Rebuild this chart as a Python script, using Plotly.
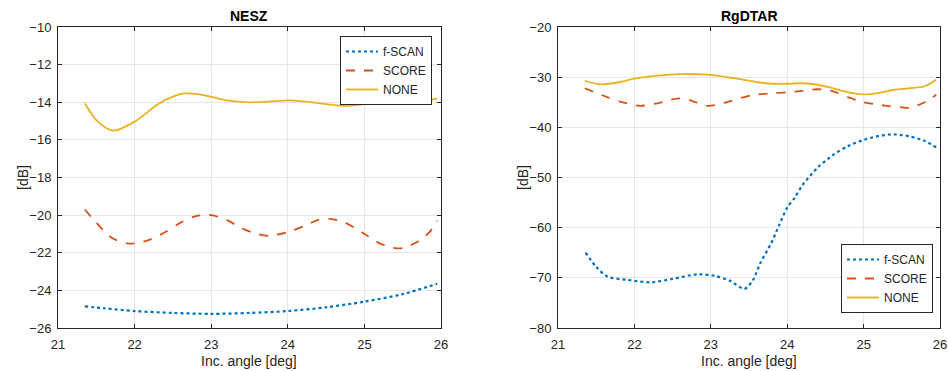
import plotly.graph_objects as go

# ---- NESZ data ----
nesz_none_x = [21.35, 21.52, 21.72, 22.0, 22.31, 22.5, 22.65, 22.8, 22.96, 23.2, 23.5, 23.8, 24.0, 24.2, 24.5, 24.75, 25.0, 25.2, 25.4, 25.6, 25.8, 25.95]
nesz_none_y = [-14.06, -15.03, -15.51, -15.03, -14.09, -13.7, -13.53, -13.55, -13.67, -13.9, -14.0, -13.95, -13.9, -13.95, -14.1, -14.2, -14.1, -13.95, -13.8, -13.8, -13.9, -13.8]
nesz_score_x = [21.35, 21.5, 21.7, 21.9, 22.0, 22.2, 22.4, 22.6, 22.8, 23.0, 23.2, 23.4, 23.6, 23.75, 24.0, 24.2, 24.4, 24.55, 24.75, 25.0, 25.2, 25.4, 25.5, 25.7, 25.85, 25.95]
nesz_score_y = [-19.7, -20.4, -21.2, -21.5, -21.5, -21.3, -20.9, -20.4, -20.05, -20.0, -20.25, -20.7, -21.0, -21.1, -20.9, -20.6, -20.25, -20.2, -20.4, -21.0, -21.5, -21.75, -21.75, -21.4, -20.9, -20.3]
nesz_fscan_x = [21.35, 21.6, 22.0, 22.5, 23.0, 23.5, 24.0, 24.5, 25.0, 25.5, 25.95]
nesz_fscan_y = [-24.85, -24.95, -25.1, -25.2, -25.25, -25.2, -25.1, -24.9, -24.6, -24.2, -23.65]

# ---- RgDTAR data ----
rg_none_x = [21.35, 21.55, 21.8, 22.0, 22.3, 22.61, 22.96, 23.3, 23.62, 23.8, 24.0, 24.2, 24.4, 24.6, 24.8, 25.0, 25.2, 25.4, 25.6, 25.8, 25.95]
rg_none_y = [-30.7, -31.4, -31.0, -30.3, -29.7, -29.37, -29.5, -30.2, -31.0, -31.3, -31.3, -31.2, -31.5, -32.2, -33.0, -33.4, -33.1, -32.5, -32.2, -31.8, -30.5]
rg_score_x = [21.35, 21.65, 21.85, 22.07, 22.3, 22.59, 22.75, 22.96, 23.2, 23.53, 23.8, 24.0, 24.2, 24.4, 24.6, 24.8, 25.0, 25.3, 25.5, 25.6, 25.8, 25.95]
rg_score_y = [-32.2, -34.0, -35.0, -35.7, -35.2, -34.2, -34.7, -35.7, -35.0, -33.6, -33.2, -33.0, -32.7, -32.4, -32.8, -34.0, -35.0, -35.7, -36.0, -36.1, -35.0, -33.5]
rg_fscan_x = [21.36, 21.5, 21.65, 21.9, 22.22, 22.5, 22.83, 23.05, 23.25, 23.44, 23.55, 23.65, 23.79, 23.9, 24.0, 24.1, 24.2, 24.4, 24.6, 24.8, 25.0, 25.2, 25.4, 25.6, 25.8, 25.95]
rg_fscan_y = [-64.98, -67.8, -69.77, -70.4, -70.9, -70.2, -69.3, -69.6, -70.6, -72.2, -70.5, -67.0, -63.1, -59.3, -56.0, -54.0, -51.5, -48.0, -45.5, -43.7, -42.5, -41.7, -41.4, -41.8, -42.7, -44.0]

labels = ["f-SCAN", "SCORE", "NONE"]
colors = ["#0072BD", "#D95319", "#EDB120"]
dashes = ["dot", "dash", "solid"]
widths = [2.2, 1.8, 1.8]

fig = go.Figure()

panels = [
    ("x", "y", "legend", [(nesz_fscan_x, nesz_fscan_y), (nesz_score_x, nesz_score_y), (nesz_none_x, nesz_none_y)]),
    ("x2", "y2", "legend2", [(rg_fscan_x, rg_fscan_y), (rg_score_x, rg_score_y), (rg_none_x, rg_none_y)]),
]
for xa, ya, lg, series in panels:
    for i, (sx, sy) in enumerate(series):
        fig.add_trace(go.Scatter(
            x=sx, y=sy, mode="lines", name=labels[i], xaxis=xa, yaxis=ya, legend=lg,
            line=dict(color=colors[i], dash=dashes[i], width=widths[i], shape="spline", smoothing=0.8),
        ))

axis_common = dict(
    showline=True, mirror="ticks", linecolor="#262626", linewidth=1,
    ticks="inside", ticklen=4, tickcolor="#262626", automargin=False,
    showgrid=True, gridcolor="#e6e6e6", gridwidth=1, zeroline=False,
    tickfont=dict(family="Liberation Sans, Arial", size=13, color="#262626"),
)
legend_common = dict(
    bordercolor="#262626", borderwidth=1, bgcolor="white",
    font=dict(size=12, family="Liberation Sans, Arial", color="#262626"),
    tracegroupgap=0, itemwidth=32,
)
ann_common = dict(xref="paper", yref="paper", showarrow=False, xanchor="center", yanchor="middle")
fig.update_layout(
    width=948, height=371,
    margin=dict(l=0, r=0, t=0, b=0, autoexpand=False),
    paper_bgcolor="white", plot_bgcolor="white",
    font=dict(family="Liberation Sans, Arial", color="#262626"),
    xaxis=dict(domain=[0.0612, 0.4652], range=[21, 26], dtick=1, anchor="y", ticklabelstandoff=4, **axis_common),
    yaxis=dict(domain=[0.116, 0.927], range=[-26, -10], dtick=2, anchor="x", ticklabelstandoff=3, **axis_common),
    xaxis2=dict(domain=[0.5886, 0.9916], range=[21, 26], dtick=1, anchor="y2", ticklabelstandoff=4, **axis_common),
    yaxis2=dict(domain=[0.116, 0.927], range=[-80, -20], dtick=10, anchor="x2", ticklabelstandoff=3, **axis_common),
    legend=dict(x=432 / 948, y=1 - 36 / 371, xanchor="right", yanchor="top", **legend_common),
    legend2=dict(x=933 / 948, y=1 - 313 / 371, xanchor="right", yanchor="bottom", **legend_common),
    annotations=[
        dict(text="<b>NESZ</b>", x=249.5 / 948, y=1 - 16 / 371, font=dict(size=14, color="black"), **ann_common),
        dict(text="<b>RgDTAR</b>", x=749 / 948, y=1 - 16 / 371, font=dict(size=14, color="black"), **ann_common),
        dict(text="Inc. angle [deg]", x=249.5 / 948, y=1 - 361 / 371, font=dict(size=14, color="#262626"), **ann_common),
        dict(text="Inc. angle [deg]", x=749 / 948, y=1 - 361 / 371, font=dict(size=14, color="#262626"), **ann_common),
        dict(text="[dB]", x=23 / 948, y=1 - 178 / 371, textangle=-90, font=dict(size=14, color="#262626"), **ann_common),
        dict(text="[dB]", x=523 / 948, y=1 - 178 / 371, textangle=-90, font=dict(size=14, color="#262626"), **ann_common),
    ],
)

fig.write_html("out.html")
